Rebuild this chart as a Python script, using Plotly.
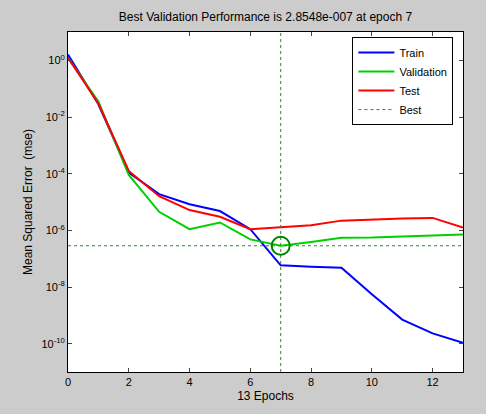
import plotly.graph_objects as go

epochs = list(range(14))
train = [1.6, 0.028, 1.1e-4, 1.9e-5, 8.3e-6, 4.8e-6, 1.1e-6, 5.8e-8, 5.2e-8, 4.8e-8, 5.5e-9, 7.1e-10, 2.3e-10, 1.07e-10]
validation = [1.2, 0.035, 9.0e-5, 4.5e-6, 1.1e-6, 1.9e-6, 4.8e-7, 2.8548e-7, 3.9e-7, 5.5e-7, 5.6e-7, 6.0e-7, 6.6e-7, 7.1e-7]
test = [1.25, 0.03, 1.25e-4, 1.6e-5, 5.2e-6, 3.0e-6, 1.1e-6, 1.26e-6, 1.5e-6, 2.2e-6, 2.45e-6, 2.6e-6, 2.75e-6, 1.26e-6]
best_epoch = 7
best_value = 2.8548e-7

y_tickvals = [1, 1e-2, 1e-4, 1e-6, 1e-8, 1e-10]
y_ticktext = ["10<sup>0</sup>", "10<sup>-2</sup>", "10<sup>-4</sup>", "10<sup>-6</sup>", "10<sup>-8</sup>", "10<sup>-10</sup>"]
x_tickvals = [0, 2, 4, 6, 8, 10, 12]

font = "Liberation Sans, Arial, sans-serif"
best_color = "rgb(40,140,40)"

fig = go.Figure()
fig.add_trace(go.Scatter(x=epochs, y=train, mode="lines", name="Train",
                         line=dict(color="#0000ff", width=2)))
fig.add_trace(go.Scatter(x=epochs, y=validation, mode="lines", name="Validation",
                         line=dict(color="#00d000", width=2)))
fig.add_trace(go.Scatter(x=epochs, y=test, mode="lines", name="Test",
                         line=dict(color="#ff0000", width=2)))
# Best lines
fig.add_trace(go.Scatter(x=[epochs[0], epochs[-1]], y=[best_value, best_value], mode="lines",
                         name="Best", line=dict(color=best_color, width=1, dash="3px,3px")))
fig.add_trace(go.Scatter(x=[best_epoch, best_epoch], y=[1e-11, 10], mode="lines",
                         showlegend=False, line=dict(color=best_color, width=1, dash="3px,3px")))
fig.add_trace(go.Scatter(x=[best_epoch], y=[best_value], mode="markers", showlegend=False,
                         marker=dict(symbol="circle-open", size=18, color="rgb(0,128,0)",
                                     line=dict(color="rgb(0,128,0)", width=2))))

fig.update_layout(
    width=486, height=414,
    paper_bgcolor="#cccccc", plot_bgcolor="#ffffff",
    margin=dict(l=68, r=23, t=32, b=42),
    font=dict(family=font, size=11, color="#000000"),
    title=dict(text="Best Validation Performance is 2.8548e-007 at epoch 7",
               x=(68 + (486 - 23)) / 2 / 486, xanchor="center", y=1 - 17 / 414, yanchor="middle",
               font=dict(size=12)),
    legend=dict(x=0.72, y=0.985, xanchor="left", yanchor="top",
                bgcolor="#ffffff", bordercolor="#000000", borderwidth=1,
                font=dict(size=11), tracegroupgap=0, itemwidth=36),
    showlegend=True,
)
fig.update_xaxes(range=[0, 13], tickvals=x_tickvals, ticks="inside", ticklen=4,
                 showline=True, linecolor="#000000", linewidth=1, mirror="ticks",
                 showgrid=False, zeroline=False,
                 title=dict(text="13 Epochs", standoff=4, font=dict(size=12)))
fig.update_yaxes(type="log", range=[-11, 1], tickvals=y_tickvals, ticktext=y_ticktext,
                 ticks="inside", ticklen=4,
                 showline=True, linecolor="#000000", linewidth=1, mirror="ticks",
                 showgrid=False, zeroline=False,
                 title=dict(text="Mean Squared Error  (mse)", standoff=6, font=dict(size=12)))

fig.write_html("out.html")
